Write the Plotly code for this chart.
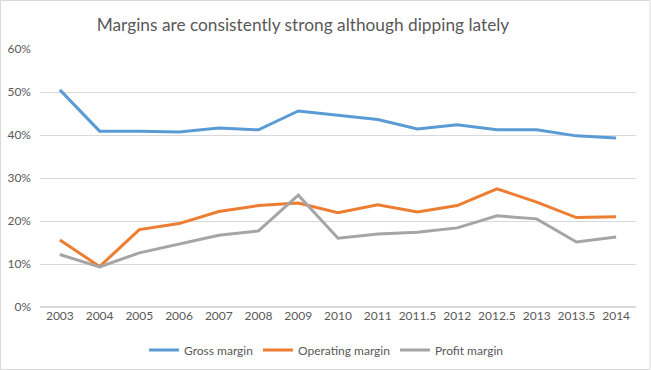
import plotly.graph_objects as go

categories = ["2003", "2004", "2005", "2006", "2007", "2008", "2009", "2010", "2011",
              "2011.5", "2012", "2012.5", "2013", "2013.5", "2014"]
gross_margin = [50.5, 40.9, 40.9, 40.7, 41.6, 41.2, 45.6, 44.6, 43.6, 41.4, 42.4, 41.2, 41.2, 39.8, 39.3]
operating_margin = [15.6, 9.4, 18.0, 19.4, 22.2, 23.6, 24.2, 21.9, 23.8, 22.1, 23.6, 27.5, 24.4, 20.8, 21.0]
profit_margin = [12.2, 9.3, 12.6, 14.7, 16.7, 17.7, 26.0, 16.0, 17.0, 17.4, 18.4, 21.2, 20.5, 15.1, 16.3]

series = [
    ("Gross margin", gross_margin, "#5B9BD5"),
    ("Operating margin", operating_margin, "#ED7D31"),
    ("Profit margin", profit_margin, "#A5A5A5"),
]

fig = go.Figure()
for name, vals, color in series:
    fig.add_trace(go.Scatter(
        x=categories, y=[v / 100 for v in vals], name=name, mode="lines",
        line=dict(color=color, width=3),
    ))

font_family = "Lato, 'Open Sans', sans-serif"
fig.update_layout(
    width=651, height=370,
    margin=dict(l=40, r=15, t=49, b=63, autoexpand=False),
    paper_bgcolor="white", plot_bgcolor="white",
    font=dict(family=font_family, size=12, color="#595959"),
    title=dict(text="Margins are consistently strong although dipping lately",
               x=303 / 651, xref="container", xanchor="center",
               y=1 - 25 / 370, yref="container", yanchor="middle",
               font=dict(family=font_family, size=17.3, color="#595959")),
    showlegend=True,
    legend=dict(orientation="h", x=326 / 651, xanchor="center", xref="container",
                y=1 - 350 / 370, yref="container", yanchor="middle",
                font=dict(size=12, color="#595959"), itemwidth=30,
                tracegroupgap=0),
    xaxis=dict(type="category", range=[-0.5, len(categories) - 0.5],
               showgrid=False, showline=False, ticks="", automargin=False,
               tickfont=dict(size=12, color="#595959")),
    yaxis=dict(range=[0, 0.6], dtick=0.1, tickformat=".0%", showgrid=True,
               gridcolor="#D9D9D9", gridwidth=1, zeroline=True, zerolinecolor="#D9D9D9",
               showline=False, ticks="", ticklabelstandoff=8, automargin=False,
               tickfont=dict(size=12, color="#595959")),
    shapes=[dict(type="rect", xref="paper", yref="paper",
                 x0=-39.5 / 596, x1=1 + 14 / 596, y0=-62.5 / 258, y1=1 + 48.5 / 258,
                 line=dict(color="#D9D9D9", width=1), fillcolor="rgba(0,0,0,0)")],
)

fig.write_html("out.html", config={"displayModeBar": False},
               post_script="document.body.style.margin='0';document.body.style.overflow='hidden';")
